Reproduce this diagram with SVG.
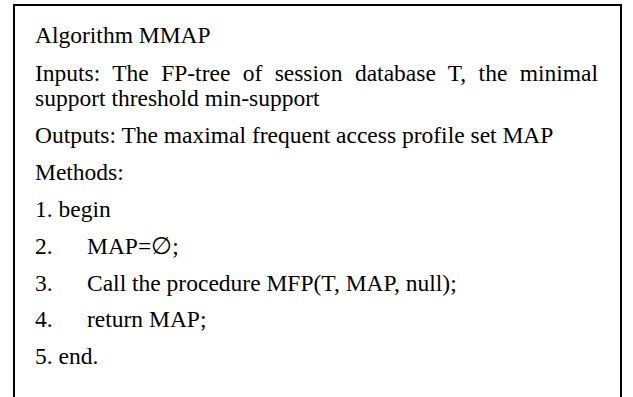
<svg xmlns="http://www.w3.org/2000/svg" width="633" height="397" viewBox="0 0 633 397">
<style>
text{font-family:"Liberation Serif","Times New Roman",serif;font-size:23.5px;fill:#000}
</style>
<rect width="633" height="397" fill="#fff"/>
<g id="algorithm-box">
<rect x="14" y="5" width="607" height="410" fill="none" stroke="#000" stroke-width="2"/>
</g>
<g id="algorithm-text">
<text x="35" y="43">Algorithm MMAP</text>
<text x="35" y="81" word-spacing="6.5">Inputs: The FP-tree of session database T, the minimal</text>
<text x="35" y="106">support threshold min-support</text>
<text x="35" y="143">Outputs: The maximal frequent access profile set MAP</text>
<text x="35" y="180">Methods:</text>
<text x="35" y="217">1. begin</text>
<text x="35" y="254">2.</text><text x="87" y="254">MAP=∅;</text>
<text x="35" y="291">3.</text><text x="87" y="291">Call the procedure MFP(T, MAP, null);</text>
<text x="35" y="327">4.</text><text x="87" y="327">return MAP;</text>
<text x="35" y="364">5. end.</text>
</g>
</svg>
